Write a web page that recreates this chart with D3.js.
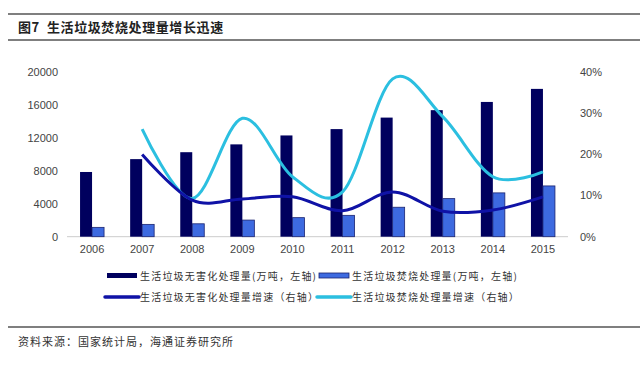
<!DOCTYPE html>
<html>
<head>
<meta charset="utf-8">
<script src="https://cdn.jsdelivr.net/npm/d3@7"></script>
<style>
  body { margin: 0; background: #fff; }
  text { font-family: "Liberation Sans", Arial, sans-serif; }
  .cjk { font-family: "Noto Sans CJK SC", sans-serif; white-space: pre; }
</style>
</head>
<body>
<div id="chart"></div>
<script>
let years = ['2006', '2007', '2008', '2009', '2010', '2011', '2012', '2013', '2014', '2015']
let harmless = [7873, 9438, 10280, 11232, 12318, 13090, 14490, 15394, 16394, 17982]
let incineration = [1137, 1500, 1570, 2022, 2317, 2599, 3584, 4633, 5330, 6176]
let harmlessGrowth = [null, 20.0, 8.9, 9.2, 9.7, 6.3, 10.9, 6.2, 6.5, 9.7]
let incinerationGrowth = [null, 26.2, 9.3, 28.8, 14.6, 10.9, 38.4, 29.2, 14.6, 15.8]
let leftTicks = [0, 4000, 8000, 12000, 16000, 20000]
let rightTicks = [0, 10, 20, 30, 40]
let legendLabels = [
  '生活垃圾无害化处理量(万吨，左轴)',
  '生活垃圾焚烧处理量(万吨，左轴)',
  '生活垃圾无害化处理量增速（右轴）',
  '生活垃圾焚烧处理量增速（右轴）'
]

let width = 640
let height = 386

let svg = d3
  .select('#chart')
  .append('svg')
  .attr('width', width)
  .attr('height', height)

// title and rules
svg.append('line').attr('x1', 8).attr('x2', 640).attr('y1', 14).attr('y2', 14)
  .attr('stroke', '#555').attr('stroke-width', 1.5)
svg.append('line').attr('x1', 8).attr('x2', 640).attr('y1', 40).attr('y2', 40)
  .attr('stroke', '#555').attr('stroke-width', 1.5)
svg.append('text').attr('class', 'cjk')
  .attr('x', 18).attr('y', 32)
  .attr('font-size', 13).attr('font-weight', 'bold').attr('fill', '#222')
  .attr('letter-spacing', 0.6)
  .text('图7  生活垃圾焚烧处理量增长迅速')

svg.append('line').attr('x1', 8).attr('x2', 640).attr('y1', 327).attr('y2', 327)
  .attr('stroke', '#555').attr('stroke-width', 1.5)
svg.append('text').attr('class', 'cjk')
  .attr('x', 18).attr('y', 346)
  .attr('font-size', 11).attr('fill', '#333')
  .attr('letter-spacing', 1)
  .text('资料来源：国家统计局，海通证券研究所')

let x = d3.scaleBand().domain(years).range([67, 568]).paddingInner(0).paddingOuter(0)
let yLeft = d3.scaleLinear().domain([0, 20000]).range([236.7, 72.3])
let yRight = d3.scaleLinear().domain([0, 40]).range([236.7, 72.3])

let barW = 12

// axis labels
svg.selectAll('.ltick')
  .data(leftTicks)
  .enter()
  .append('text')
  .attr('x', 58)
  .attr('y', d => yLeft(d))
  .attr('dy', '0.35em')
  .attr('text-anchor', 'end')
  .attr('font-size', 11)
  .attr('fill', '#444')
  .text(d => d)

svg.selectAll('.rtick')
  .data(rightTicks)
  .enter()
  .append('text')
  .attr('x', 580)
  .attr('y', d => yRight(d))
  .attr('dy', '0.35em')
  .attr('font-size', 11)
  .attr('fill', '#444')
  .text(d => d + '%')

svg.selectAll('.xtick')
  .data(years)
  .enter()
  .append('text')
  .attr('x', d => x(d) + x.bandwidth() / 2)
  .attr('y', 253)
  .attr('text-anchor', 'middle')
  .attr('font-size', 11)
  .attr('fill', '#444')
  .text(d => d)

svg.append('line')
  .attr('x1', 67).attr('x2', 568)
  .attr('y1', yLeft(0)).attr('y2', yLeft(0))
  .attr('stroke', '#ccc')

// bars
svg.selectAll('.bar-dark')
  .data(harmless)
  .enter()
  .append('rect')
  .attr('x', (d, i) => x(years[i]) + x.bandwidth() / 2 - barW)
  .attr('y', d => yLeft(d))
  .attr('width', barW)
  .attr('height', d => yLeft(0) - yLeft(d))
  .attr('fill', '#00005e')

svg.selectAll('.bar-light')
  .data(incineration)
  .enter()
  .append('rect')
  .attr('x', (d, i) => x(years[i]) + x.bandwidth() / 2)
  .attr('y', d => yLeft(d))
  .attr('width', barW)
  .attr('height', d => yLeft(0) - yLeft(d))
  .attr('fill', '#3d6ae0')
  .attr('stroke', '#1a2370')
  .attr('stroke-width', 0.8)

// lines
let line = d3.line()
  .x(d => x(d[0]) + x.bandwidth() / 2)
  .y(d => yRight(d[1]))
  .curve(d3.curveCardinal.tension(0))

svg.append('path')
  .datum(years.map((y, i) => [y, incinerationGrowth[i]]).filter(d => d[1] != null))
  .attr('d', line)
  .attr('fill', 'none')
  .attr('stroke', '#2bbfe0')
  .attr('stroke-width', 3)

svg.append('path')
  .datum(years.map((y, i) => [y, harmlessGrowth[i]]).filter(d => d[1] != null))
  .attr('d', line)
  .attr('fill', 'none')
  .attr('stroke', '#0f12a6')
  .attr('stroke-width', 3)

// legend
let legendItems = [
  { x: 107, y: 276, type: 'rect', fill: '#00005e', stroke: 'none' },
  { x: 319, y: 276, type: 'rect', fill: '#3d6ae0', stroke: '#1a2370' },
  { x: 105, y: 297, type: 'line', stroke: '#0f12a6' },
  { x: 317, y: 297, type: 'line', stroke: '#2bbfe0' }
]

let legend = svg.selectAll('.legend')
  .data(legendItems)
  .enter()
  .append('g')
  .attr('transform', d => `translate(${d.x},${d.y})`)

legend.filter(d => d.type === 'rect')
  .append('rect')
  .attr('x', 0).attr('y', -3)
  .attr('width', 30).attr('height', 5)
  .attr('fill', d => d.fill)
  .attr('stroke', d => d.stroke)
  .attr('stroke-width', 0.8)

legend.filter(d => d.type === 'line')
  .append('line')
  .attr('x1', 0).attr('x2', 34).attr('y1', 0).attr('y2', 0)
  .attr('stroke', d => d.stroke)
  .attr('stroke-width', 3.5)
  .attr('stroke-linecap', 'round')

legend.append('text')
  .attr('class', 'cjk')
  .attr('x', (d, i) => i < 2 ? 33 : 35)
  .attr('y', 0)
  .attr('dy', '0.35em')
  .attr('font-size', 10)
  .attr('letter-spacing', 1.2)
  .attr('fill', '#333')
  .text((d, i) => legendLabels[i])
</script>
</body>
</html>
